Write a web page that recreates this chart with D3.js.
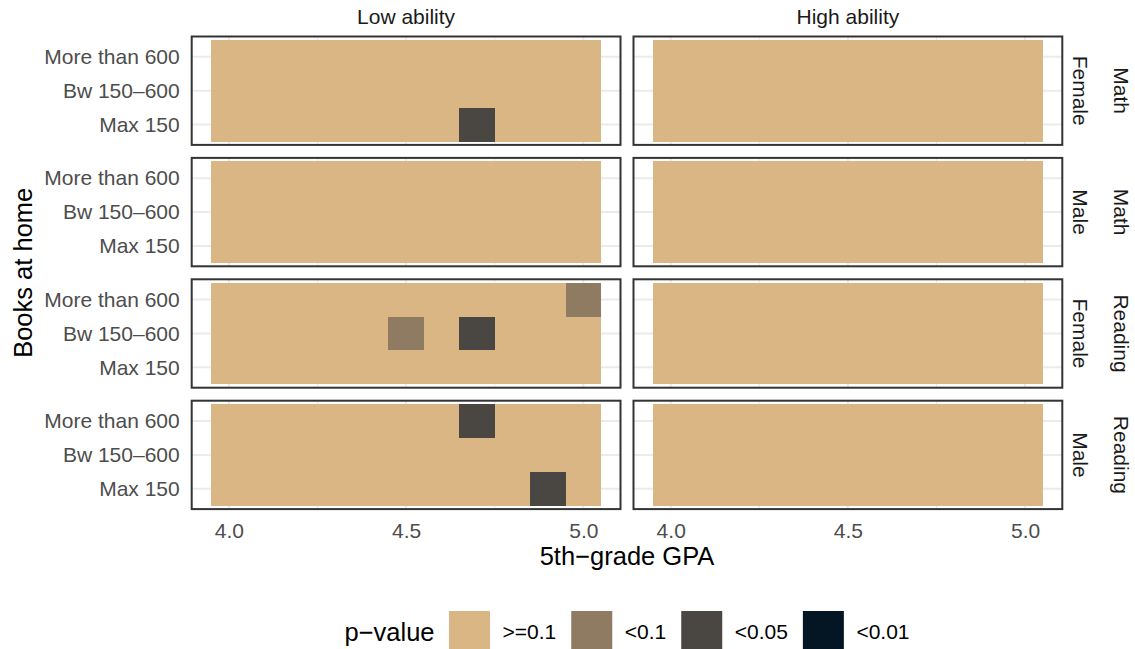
<!DOCTYPE html>
<html>
<head>
<meta charset="utf-8">
<script src="https://cdn.jsdelivr.net/npm/d3@7"></script>
<style>
  html, body { margin: 0; padding: 0; background: #ffffff; }
  svg { display: block; font-family: "Liberation Sans", Arial, Helvetica, sans-serif; }
</style>
</head>
<body>
<svg id="chart" width="1135" height="649"></svg>
<script>
// ---------------- DATA ----------------
const gpaValues = [4.0, 4.1, 4.2, 4.3, 4.4, 4.5, 4.6, 4.7, 4.8, 4.9, 5.0];
const booksCategories = ["Max 150", "Bw 150\u2013600", "More than 600"]; // bottom to top
const abilityColumns = ["Low ability", "High ability"];
const subjectRows = ["Math", "Math", "Reading", "Reading"];
const genderRows = ["Female", "Male", "Female", "Male"];
const xTickValues = [4.0, 4.5, 5.0];
const xTickLabels = ["4.0", "4.5", "5.0"];
const xMinorTicks = [4.25, 4.75];
const pLevels = [">=0.1", "<0.1", "<0.05", "<0.01"];
const pColors = ["#DBB685", "#8F7B62", "#4A4642", "#041624"];

// p-value level index per cell; each panel: rows = [More than 600, Bw 150–600, Max 150], columns = gpaValues
const mathFemaleLow = [
  [0,0,0,0,0,0,0,0,0,0,0],
  [0,0,0,0,0,0,0,0,0,0,0],
  [0,0,0,0,0,0,0,2,0,0,0]
];
const mathFemaleHigh = [
  [0,0,0,0,0,0,0,0,0,0,0],
  [0,0,0,0,0,0,0,0,0,0,0],
  [0,0,0,0,0,0,0,0,0,0,0]
];
const mathMaleLow = [
  [0,0,0,0,0,0,0,0,0,0,0],
  [0,0,0,0,0,0,0,0,0,0,0],
  [0,0,0,0,0,0,0,0,0,0,0]
];
const mathMaleHigh = [
  [0,0,0,0,0,0,0,0,0,0,0],
  [0,0,0,0,0,0,0,0,0,0,0],
  [0,0,0,0,0,0,0,0,0,0,0]
];
const readingFemaleLow = [
  [0,0,0,0,0,0,0,0,0,0,1],
  [0,0,0,0,0,1,0,2,0,0,0],
  [0,0,0,0,0,0,0,0,0,0,0]
];
const readingFemaleHigh = [
  [0,0,0,0,0,0,0,0,0,0,0],
  [0,0,0,0,0,0,0,0,0,0,0],
  [0,0,0,0,0,0,0,0,0,0,0]
];
const readingMaleLow = [
  [0,0,0,0,0,0,0,2,0,0,0],
  [0,0,0,0,0,0,0,0,0,0,0],
  [0,0,0,0,0,0,0,0,0,2,0]
];
const readingMaleHigh = [
  [0,0,0,0,0,0,0,0,0,0,0],
  [0,0,0,0,0,0,0,0,0,0,0],
  [0,0,0,0,0,0,0,0,0,0,0]
];
const panelGrid = [
  [mathFemaleLow, mathFemaleHigh],
  [mathMaleLow, mathMaleHigh],
  [readingFemaleLow, readingFemaleHigh],
  [readingMaleLow, readingMaleHigh]
];

// ---------------- LAYOUT ----------------
const svg = d3.select("#chart");
const panelLeft0 = 191.7, panelW = 428.8, colGap = 13;
const panelTop0 = 36.5, panelH = 108.4, rowGap = 13;
const axisFont = 21, titleFont = 25.5;

const tileHalf = 0.05;
const xMin = d3.min(gpaValues) - tileHalf, xMax = d3.max(gpaValues) + tileHalf;
const xPad = (xMax - xMin) * 0.05;
const x = d3.scaleLinear().domain([xMin - xPad, xMax + xPad]).range([0, panelW]);
const y = d3.scaleLinear().domain([0.4, booksCategories.length + 0.6]).range([panelH, 0]);

const fill = d3.scaleOrdinal().domain(pLevels).range(pColors);

panelGrid.forEach((rowPanels, r) => {
  rowPanels.forEach((grid, c) => {
    const px = panelLeft0 + c * (panelW + colGap);
    const py = panelTop0 + r * (panelH + rowGap);
    const g = svg.append("g").attr("transform", `translate(${px},${py})`);

    // grid lines
    g.selectAll(".minor").data(xMinorTicks).join("line")
      .attr("x1", d => x(d)).attr("x2", d => x(d))
      .attr("y1", 0).attr("y2", panelH)
      .attr("stroke", "#EBEBEB").attr("stroke-width", 1.1);
    g.selectAll(".majorx").data(xTickValues).join("line")
      .attr("x1", d => x(d)).attr("x2", d => x(d))
      .attr("y1", 0).attr("y2", panelH)
      .attr("stroke", "#EBEBEB").attr("stroke-width", 2);
    g.selectAll(".majory").data(booksCategories).join("line")
      .attr("x1", 0).attr("x2", panelW)
      .attr("y1", (d, i) => y(i + 1)).attr("y2", (d, i) => y(i + 1))
      .attr("stroke", "#EBEBEB").attr("stroke-width", 2);

    // tiles
    const cells = [];
    grid.forEach((row, ri) => {
      const catIndex = booksCategories.length - ri; // 1-based from bottom
      row.forEach((lvl, gi) => {
        cells.push({ gpa: gpaValues[gi], cat: catIndex, p: pLevels[lvl] });
      });
    });
    g.selectAll("rect.tile").data(cells).join("rect")
      .attr("class", "tile")
      .attr("x", d => x(d.gpa - tileHalf))
      .attr("width", d => x(d.gpa + tileHalf) - x(d.gpa - tileHalf))
      .attr("y", d => y(d.cat + 0.5))
      .attr("height", d => y(d.cat - 0.5) - y(d.cat + 0.5))
      .attr("fill", d => fill(d.p))
      .attr("shape-rendering", "crispEdges");

    // panel border
    g.append("rect")
      .attr("x", 0).attr("y", 0).attr("width", panelW).attr("height", panelH)
      .attr("fill", "none").attr("stroke", "#333333").attr("stroke-width", 2);

    // y axis (only first column)
    if (c === 0) {
      const yAxis = d3.axisLeft(y)
        .tickValues(booksCategories.map((d, i) => i + 1))
        .tickFormat(v => booksCategories[v - 1])
        .tickSize(0).tickPadding(12);
      const ya = g.append("g").call(yAxis);
      ya.select(".domain").remove();
      ya.selectAll("text").attr("fill", "#4D4D4D").style("font-size", axisFont + "px")
        .style("font-family", "'Liberation Sans', Arial, sans-serif");
    }
    // x axis (only last row)
    if (r === panelGrid.length - 1) {
      const xAxis = d3.axisBottom(x)
        .tickValues(xTickValues)
        .tickFormat((v, i) => xTickLabels[i])
        .tickSize(0).tickPadding(13.5);
      const xa = g.append("g").attr("transform", `translate(0,${panelH})`).call(xAxis);
      xa.select(".domain").remove();
      xa.selectAll("text").attr("fill", "#4D4D4D").style("font-size", axisFont + "px")
        .style("font-family", "'Liberation Sans', Arial, sans-serif");
    }
  });
});

// column strips
abilityColumns.forEach((lab, c) => {
  svg.append("text")
    .attr("x", panelLeft0 + c * (panelW + colGap) + panelW / 2)
    .attr("y", 24)
    .attr("text-anchor", "middle")
    .attr("fill", "#1A1A1A")
    .style("font-size", axisFont + "px")
    .text(lab);
});

// row strips
const stripRight = panelLeft0 + 2 * panelW + colGap;
genderRows.forEach((lab, r) => {
  const cy = panelTop0 + r * (panelH + rowGap) + panelH / 2;
  svg.append("text")
    .attr("transform", `translate(${stripRight + 18},${cy}) rotate(90)`)
    .attr("text-anchor", "middle")
    .attr("dominant-baseline", "central")
    .attr("fill", "#1A1A1A")
    .style("font-size", axisFont + "px")
    .text(lab);
  svg.append("text")
    .attr("transform", `translate(${stripRight + 59},${cy}) rotate(90)`)
    .attr("text-anchor", "middle")
    .attr("dominant-baseline", "central")
    .attr("fill", "#1A1A1A")
    .style("font-size", axisFont + "px")
    .text(subjectRows[r]);
});

// axis titles
const plotCenterX = panelLeft0 + (2 * panelW + colGap) / 2;
const plotBottom = panelTop0 + 4 * panelH + 3 * rowGap;
svg.append("text")
  .attr("x", plotCenterX).attr("y", 565)
  .attr("text-anchor", "middle").attr("fill", "#000")
  .style("font-size", titleFont + "px")
  .text("5th\u2212grade GPA");
svg.append("text")
  .attr("transform", `translate(31.5,${(panelTop0 + plotBottom) / 2}) rotate(-90)`)
  .attr("text-anchor", "middle").attr("fill", "#000")
  .style("font-size", titleFont + "px")
  .text("Books at home");

// legend
const keySize = 41, keyTop = 611, keyCenterY = keyTop + keySize / 2;
const legend = svg.append("g");
const titleText = legend.append("text")
  .attr("x", 0).attr("y", keyCenterY).attr("dominant-baseline", "central")
  .attr("fill", "#000").style("font-size", titleFont + "px").text("p\u2212value");
let cursor = titleText.node().getComputedTextLength() + 14.5;
pLevels.forEach((lvl, i) => {
  legend.append("rect")
    .attr("x", cursor).attr("y", keyTop).attr("width", keySize).attr("height", keySize)
    .attr("fill", fill(lvl));
  cursor += keySize + 12.5;
  const t = legend.append("text")
    .attr("x", cursor).attr("y", keyCenterY).attr("dominant-baseline", "central")
    .attr("fill", "#000").style("font-size", axisFont + "px").text(lvl);
  cursor += t.node().getComputedTextLength();
  if (i < pLevels.length - 1) cursor += 15;
});
legend.attr("transform", `translate(${plotCenterX - cursor / 2},0)`);
</script>
</body>
</html>
